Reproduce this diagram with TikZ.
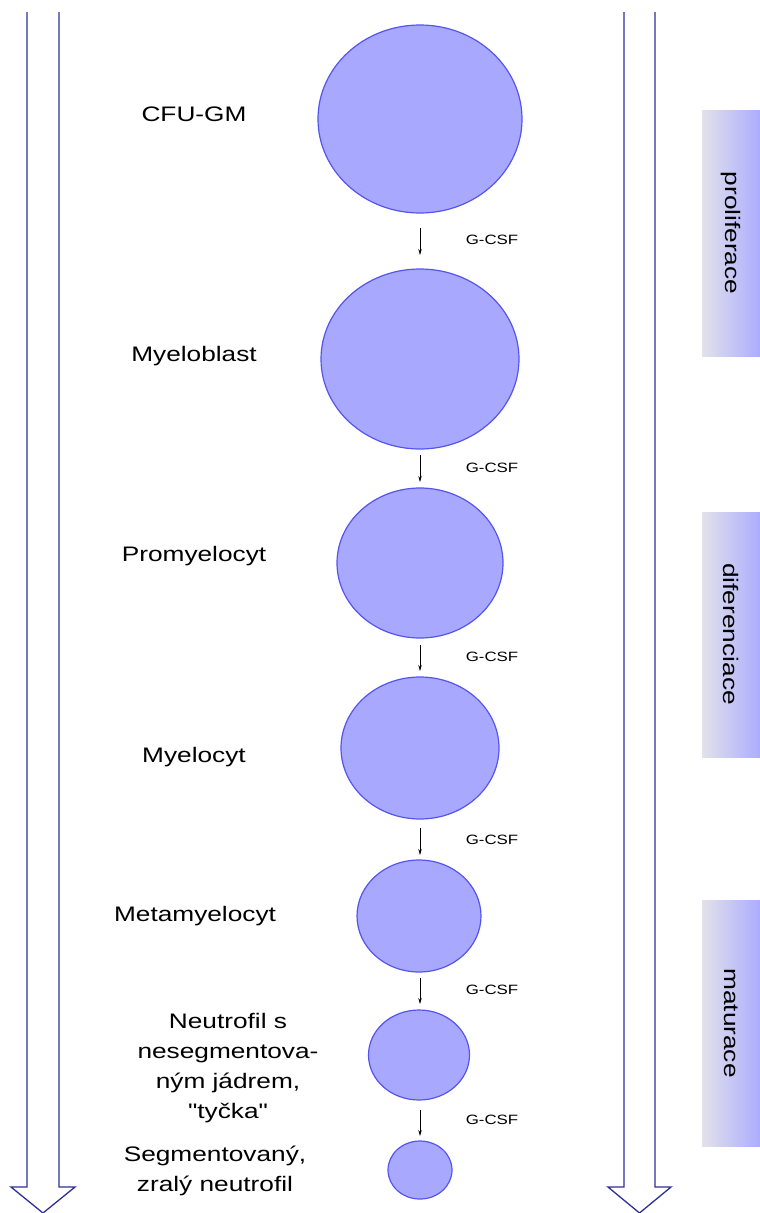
\documentclass[tikz,border=0pt]{standalone}
\usepackage{fontspec}
\setmainfont[FakeStretch=1.25]{Liberation Sans}
\newfontfamily\plainq[FakeStretch=1.25,Ligatures=TeXOff]{Liberation Sans}
\usetikzlibrary{shapes.geometric,arrows.meta}
\definecolor{cellfill}{HTML}{A8A8FF}
\definecolor{celledge}{HTML}{5555EE}
\definecolor{bigarrow}{HTML}{2E2E96}
\definecolor{boxleft}{HTML}{E2E2EA}
\definecolor{boxright}{HTML}{ACACFF}
\tikzset{
  cell/.style={ellipse, draw=celledge, fill=cellfill, line width=1.2pt, inner sep=0pt},
  lbl/.style={font=\fontsize{21}{30}\selectfont, align=center, inner sep=0pt},
  gcsf/.style={font=\fontsize{13.5}{15}\selectfont, inner sep=0pt},
  smallarrow/.style={-{Stealth[length=6pt,width=3.5pt]}, line width=0.7pt, black},
  bigarr/.style={draw=bigarrow, line width=1.3pt, line join=miter},
  phase/.style={left color=boxleft, right color=boxright, draw=none},
  phasetext/.style={font=\fontsize{21}{24}\selectfont, rotate=-90, inner sep=0pt}
}
\begin{document}
\begin{tikzpicture}[x=1pt,y=-1pt]
\useasboundingbox (0,0) rectangle (760,1213);
% big arrows
\draw[bigarr] (27,12) -- (27,1187) -- (11,1187) -- (43,1213) -- (75,1187) -- (59,1187) -- (59,12);
\draw[bigarr] (624,12) -- (624,1187) -- (608,1187) -- (639.5,1213) -- (671,1187) -- (655,1187) -- (655,12);
% phase boxes
\shade[phase] (702,110) rectangle (760,356);
\shade[phase] (702,512) rectangle (760,757);
\shade[phase] (702,900) rectangle (760,1146);
\node[phasetext] (p1) at (731,233) {proliferace};
\node[phasetext] (p2) at (731,634) {diferenciace};
\node[phasetext] (p3) at (731,1023) {maturace};
% cells
\node[cell, minimum width=204pt, minimum height=188pt] (c1) at (420,119) {};
\node[cell, minimum width=198pt, minimum height=180pt] (c2) at (420,359) {};
\node[cell, minimum width=166pt, minimum height=150pt] (c3) at (420,563) {};
\node[cell, minimum width=158pt, minimum height=142pt] (c4) at (420,748) {};
\node[cell, minimum width=124pt, minimum height=112pt] (c5) at (419,916) {};
\node[cell, minimum width=101pt, minimum height=90pt] (c6) at (419,1055) {};
\node[cell, minimum width=64pt, minimum height=58pt] (c7) at (420,1170) {};
% labels
\node[lbl] (l1) at (194,114) {CFU-GM};
\node[lbl] (l2) at (194,356) {Myeloblast};
\node[lbl] (l3) at (194,556) {Promyelocyt};
\node[lbl] (l4) at (194,757) {Myelocyt};
\node[lbl] (l5) at (195,916) {Metamyelocyt};
\node[lbl] (l6) at (228,1068) {Neutrofil s\\nesegmentova-\\ným jádrem,\\{\plainq"}tyčka{\plainq"}};
\node[lbl] (l7) at (215,1171) {Segmentovaný,\\zralý neutrofil};
% small arrows
\foreach \i/\ya/\yb/\yl in {1/228/255/240, 2/455/482/468, 3/645/671/657, 4/828/855/840, 5/978/1004/990, 6/1110/1136/1120} {
  \coordinate (s\i) at (420,\ya);
  \coordinate (e\i) at (420,\yb);
  \draw[smallarrow] (s\i) -- (e\i);
  \node[gcsf] (g\i) at (492,\yl) {G-CSF};
}
\end{tikzpicture}
\end{document}
